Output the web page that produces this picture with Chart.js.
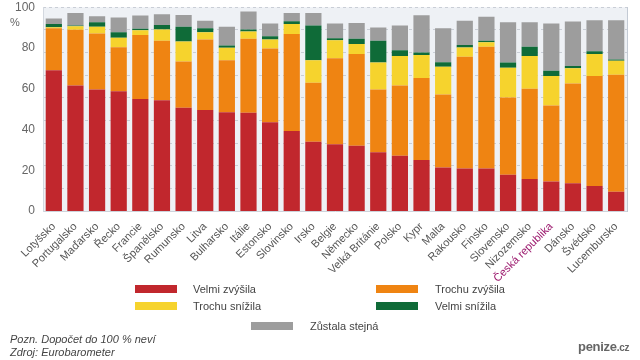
<!DOCTYPE html>
<html>
<head>
<meta charset="utf-8">
<script src="https://cdn.jsdelivr.net/npm/chart.js@4.4.0/dist/chart.umd.min.js"></script>
<style>
  body { margin: 0; background: #fff; font-family: "Liberation Sans", Arial, sans-serif; }
  #wrap { position: relative; width: 640px; height: 360px; }
  #chart { position: absolute; left: 0; top: 0; }
  .lbl { position: absolute; font-size: 11px; color: #444; white-space: nowrap; line-height: 12px; }
  .sw { position: absolute; width: 42px; height: 8px; }
  .note { position: absolute; left: 10px; font-size: 11px; font-style: italic; color: #444; }
  #logo { position: absolute; left: 578px; top: 339px; font-size: 13px; color: #666; font-weight: bold; letter-spacing: -0.3px; }
  #logo small { font-size: 10px; }
</style>
</head>
<body>
<div id="wrap">
  <canvas id="chart" width="640" height="360"></canvas>
  <div class="lbl" style="left:10px; top:16px; color:#666;">%</div>

  <div class="sw" style="left:135px; top:285px; background:#c1272d;"></div>
  <div class="lbl" style="left:193px; top:283px;">Velmi zvýšila</div>
  <div class="sw" style="left:376px; top:285px; background:#ef8412;"></div>
  <div class="lbl" style="left:435px; top:283px;">Trochu zvýšila</div>
  <div class="sw" style="left:135px; top:302px; background:#f6d32d;"></div>
  <div class="lbl" style="left:193px; top:300px;">Trochu snížila</div>
  <div class="sw" style="left:376px; top:302px; background:#0f6b38;"></div>
  <div class="lbl" style="left:435px; top:300px;">Velmi snížila</div>
  <div class="sw" style="left:251px; top:322px; background:#9d9d9d;"></div>
  <div class="lbl" style="left:310px; top:320px;">Zůstala stejná</div>

  <div class="note" style="top:333px;">Pozn. Dopočet do 100 % neví</div>
  <div class="note" style="top:346px;">Zdroj: Eurobarometer</div>
  <div id="logo">penize<small>.cz</small></div>
</div>
<script>
const countries = ["Lotyšsko", "Portugalsko", "Maďarsko", "Řecko", "Francie", "Španělsko", "Rumunsko",
  "Litva", "Bulharsko", "Itálie", "Estonsko", "Slovinsko", "Irsko", "Belgie", "Německo",
  "Velká Británie", "Polsko", "Kypr", "Malta", "Rakousko", "Finsko", "Slovensko", "Nizozemsko",
  "Česká republika", "Dánsko", "Švédsko", "Lucembursko"]

const velmiZvysila = [69.1, 61.6, 59.6, 58.8, 54.9, 54.4, 50.7, 49.5, 48.5, 48.2, 43.6, 39.2, 34.0, 32.8,
  32.0, 28.8, 27.1, 25.0, 21.4, 20.9, 20.9, 17.8, 15.7, 14.5, 13.6, 12.3, 9.5]
const trochuZvysila = [20.6, 27.3, 27.5, 21.6, 31.5, 29.1, 22.7, 34.7, 25.5, 36.3, 36.1, 47.6, 28.9, 42.2,
  45.0, 30.8, 34.5, 40.2, 35.8, 54.8, 59.7, 37.9, 44.3, 37.3, 49.0, 53.9, 57.3]
const trochuSnizila = [0.5, 1.8, 3.3, 4.6, 2.3, 5.6, 9.8, 3.5, 6.1, 3.6, 4.5, 4.9, 11.1, 8.8,
  4.9, 13.3, 14.4, 11.3, 13.6, 4.5, 2.2, 14.6, 16.0, 14.4, 7.5, 10.8, 6.9]
const velmiSnizila = [1.5, 0.3, 2.2, 2.7, 0.7, 2.2, 7.2, 2.0, 1.1, 1.0, 1.6, 1.4, 17.0, 1.0,
  2.6, 10.6, 2.9, 1.3, 2.2, 1.2, 0.7, 2.6, 4.6, 2.6, 1.1, 1.4, 0.6]
const zustalaStejna = [2.7, 6.2, 3.0, 7.2, 6.5, 5.3, 5.8, 3.6, 9.2, 8.8, 6.2, 4.1, 6.2, 7.2,
  7.8, 6.5, 12.1, 18.3, 16.7, 11.9, 11.8, 19.7, 12.0, 23.2, 21.8, 15.2, 19.3]

const yTicks = [0, 20, 40, 60, 80, 100]
const highlight = "Česká republika"

const COLORS = {
    red: '#c1272d',
    orange: '#ef8412',
    yellow: '#f6d32d',
    green: '#0f6b38',
    grey: '#9d9d9d'
}

// light plot background like the original
const plotBg = {
    id: 'plotBg',
    beforeDraw(chart) {
        const { ctx, chartArea: a } = chart
        ctx.save()
        ctx.fillStyle = '#eef1f5'
        ctx.fillRect(a.left, a.top, a.right - a.left, a.bottom - a.top)
        ctx.restore()
    }
}

const mk = (label, data, color) => ({
    label: label,
    data: data,
    backgroundColor: color,
    borderWidth: 0,
    barPercentage: 0.75,
    categoryPercentage: 1
})

new Chart(document.getElementById('chart'), {
    type: 'bar',
    data: {
        labels: countries,
        datasets: [
            mk('Velmi zvýšila', velmiZvysila, COLORS.red),
            mk('Trochu zvýšila', trochuZvysila, COLORS.orange),
            mk('Trochu snížila', trochuSnizila, COLORS.yellow),
            mk('Velmi snížila', velmiSnizila, COLORS.green),
            mk('Zůstala stejná', zustalaStejna, COLORS.grey)
        ]
    },
    options: {
        responsive: false,
        animation: false,
        layout: { padding: { top: 0, right: 13, left: 0, bottom: 0 } },
        plugins: {
            legend: { display: false },
            tooltip: { enabled: false }
        },
        scales: {
            x: {
                stacked: true,
                grid: { display: false },
                border: { color: '#cdd3db' },
                ticks: {
                    autoSkip: false,
                    minRotation: 45,
                    maxRotation: 45,
                    padding: 1,
                    font: { family: 'Liberation Sans', size: 11 },
                    color: ctx => countries[ctx.index] === highlight ? '#9c1a6e' : '#555'
                },
                afterFit: s => { s.height = 149 }
            },
            y: {
                stacked: true,
                min: 0,
                max: 100,
                afterBuildTicks: s => { s.ticks = yTicks.map(v => ({ value: v })) },
                grid: { display: false, tickLength: 8 },
                border: { color: '#d3d8df' },
                ticks: {
                    padding: 0,
                    font: { family: 'Liberation Sans', size: 12 },
                    color: '#666'
                },
                afterFit: s => { s.width = 43 }
            },
            yg: {
                position: 'right',
                min: 0,
                max: 9,
                ticks: { display: false, stepSize: 1 },
                grid: { color: '#c9ced6', drawTicks: false },
                border: { color: '#c3cad4', dash: [3, 3] },
                afterFit: s => { s.width = 0 }
            }
        }
    },
    plugins: [plotBg]
})
</script>
</body>
</html>
